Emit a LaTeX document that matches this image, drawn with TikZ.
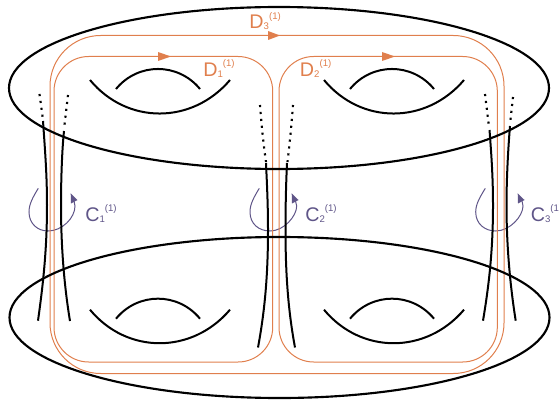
\documentclass[tikz,border=0pt]{standalone}
\usepackage{fontspec}
\setmainfont{Liberation Sans}
\definecolor{dorange}{HTML}{E07F4D}
\definecolor{cpurple}{HTML}{5F5588}
\newcommand{\lab}[3]{#1\raisebox{-0.6pt}{\fontsize{7.2pt}{9pt}\selectfont #2}\raisebox{7.4pt}{\fontsize{7.2pt}{9pt}\selectfont (#3)}}
\tikzset{
  body/.style={draw=black,line width=1.6pt},
  strand/.style={draw=black,line width=1.5pt},
  dotline/.style={draw=black,line width=1.6pt,dash pattern=on 1.6pt off 3.6pt},
  hole/.style={draw=black,line width=1.5pt},
  dloop/.style={draw=dorange,line width=0.75pt,rounded corners=26pt},
  dloopouter/.style={draw=dorange,line width=0.75pt,rounded corners=38pt},
  dlabel/.style={text=dorange,anchor=base west,inner sep=0pt,font=\fontsize{14.8pt}{16pt}\selectfont},
  clabel/.style={text=cpurple,anchor=base west,inner sep=0pt,font=\fontsize{14.8pt}{16pt}\selectfont},
  cloop/.style={draw=cpurple,line width=0.75pt},
  dhead/.style={fill=dorange},
  chead/.style={fill=cpurple}
}
\begin{document}
\begin{tikzpicture}[x=0.75pt,y=-0.75pt]
\useasboundingbox (0,0) rectangle (559,399);
% purple loops
\draw[cloop] (38.3,188.3) .. controls (33,197) and (29,204) .. (29,212) .. controls (29,224) and (38,231) .. (48,231) .. controls (62,231) and (75,218) .. (75,206) .. controls (75,204) and (74.5,203) .. (74,201);
\fill[chead] (70.7,193.3) -- (77.5,200) -- (71,203.5) -- cycle;
\draw[cloop] (259.3,188.3) .. controls (254,197) and (250,204) .. (250,212) .. controls (250,224) and (259,231) .. (270,231) .. controls (284,231) and (296.7,216) .. (296.7,206) .. controls (296.7,204) and (296,203) .. (295.5,201);
\fill[chead] (291.7,193.3) -- (298.5,200) -- (292,203.5) -- cycle;
\draw[cloop] (485.3,188.3) .. controls (480,197) and (475.7,204) .. (475.7,212) .. controls (475.7,224) and (485,231) .. (495.7,231) .. controls (510,231) and (523,216) .. (523,206) .. controls (523,204) and (522.5,203) .. (522,201);
\fill[chead] (517.7,193.3) -- (524.5,200) -- (518,203.5) -- cycle;
% orange loops
\draw[dloopouter] (50,35.5) rectangle (504,373.5);
\draw[dloop] (54,56.5) rectangle (272.7,362);
\draw[dloop] (279,56.5) rectangle (497.3,362);
\fill[dhead] (158,52) -- (171,56.5) -- (158,61) -- cycle;
\fill[dhead] (382,52) -- (395,56.5) -- (382,61) -- cycle;
\fill[dhead] (268,31) -- (280,35.5) -- (268,40) -- cycle;
% bodies
\draw[body] (279,88) ellipse [x radius=270,y radius=81];
\draw[body] (279.5,317.5) ellipse [x radius=270,y radius=80.5];
% holes
\foreach \dx/\dy in {0/0,234/0,0/229.7,234/229.7}{
  \begin{scope}[shift={(\dx,\dy)}]
    \draw[hole] (90,80) .. controls (127,124.7) and (192,124.7) .. (230,80);
    \draw[hole] (116,89) .. controls (138,62.3) and (178,62.3) .. (200,89);
  \end{scope}
}
% strands: left pair
\draw[dotline] (39.5,94) -- (43,120);
\draw[dotline] (68,95) -- (64,129);
\draw[strand] (43,121) .. controls (45,150) and (47,175) .. (47,205) .. controls (47,250) and (43,285) .. (38,320.7);
\draw[strand] (64,131) .. controls (62,150) and (61,180) .. (61,205) .. controls (61,245) and (64,285) .. (70,321);
% middle pair
\draw[dotline] (260,105) .. controls (261.5,125) and (263.5,145) .. (266,162);
\draw[dotline] (293,105) .. controls (291.5,125) and (289.5,145) .. (287.5,162);
\draw[strand] (266,163) .. controls (267,185) and (268,205) .. (268,230) .. controls (268,280) and (264,315) .. (258,347.5);
\draw[strand] (287,163) .. controls (286,185) and (285.5,205) .. (285.5,230) .. controls (285.5,280) and (289,315) .. (295,347.5);
% right pair
\draw[dotline] (485,94) -- (489,127);
\draw[dotline] (513,97) -- (510,124);
\draw[strand] (489.5,130) .. controls (491,150) and (493,175) .. (493,205) .. controls (493,250) and (489,285) .. (483,320.7);
\draw[strand] (510,126) .. controls (508,150) and (506.5,180) .. (506.5,205) .. controls (506.5,245) and (510,285) .. (515.7,320.7);
% labels
\node[dlabel] (d3) at (249.2,29) {\lab{D}{3}{1}};
\node[dlabel] (d1) at (203,76.7) {\lab{D}{1}{1}};
\node[dlabel] (d2) at (299.7,76.7) {\lab{D}{2}{1}};
\node[clabel] (c1) at (85,221.7) {\lab{C}{1}{1}};
\node[clabel] (c2) at (305,221.7) {\lab{C}{2}{1}};
\node[clabel] (c3) at (530.5,221.7) {\lab{C}{3}{1}};
\end{tikzpicture}
\end{document}
